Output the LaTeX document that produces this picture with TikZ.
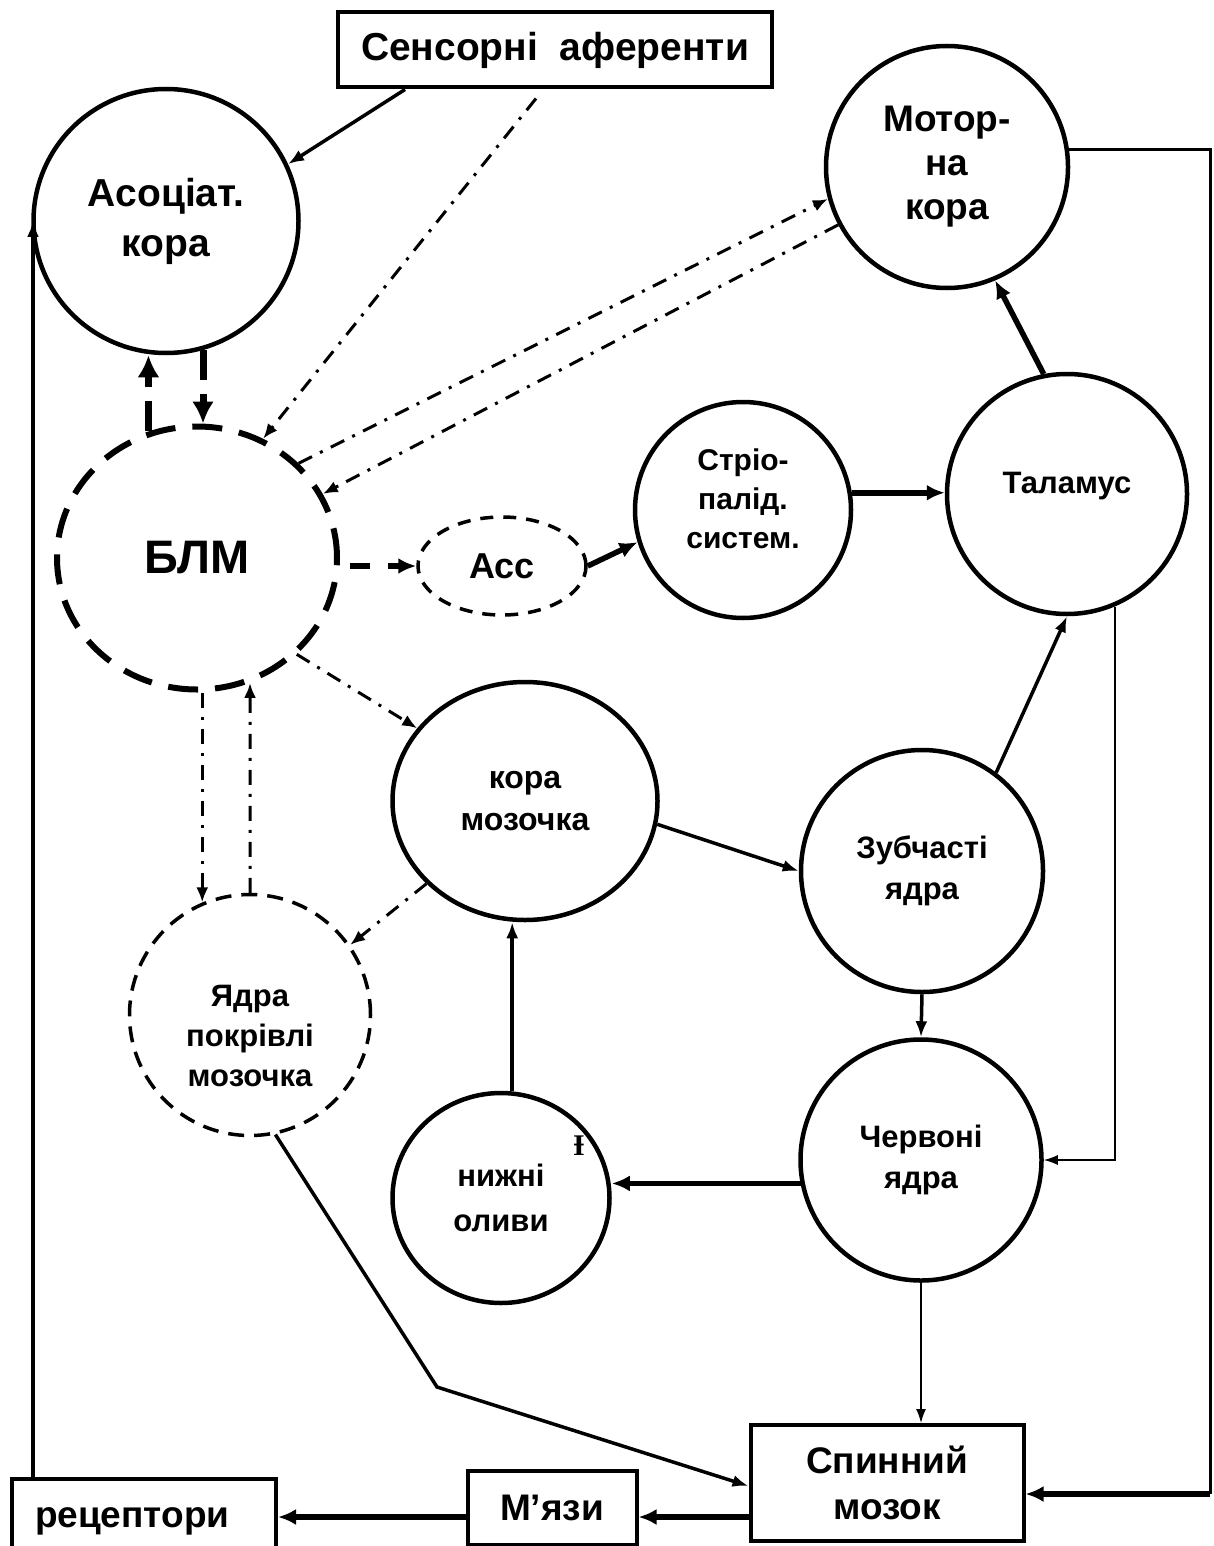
\documentclass[tikz,border=0pt]{standalone}
\usepackage{fontspec}
\setmainfont{Liberation Sans}
\newfontfamily\strayfont{Liberation Serif}
\usetikzlibrary{shapes.geometric, arrows.meta, calc}

\newcommand{\fsz}[2]{\fontsize{#1}{#2}\selectfont\bfseries}

\tikzset{
    nuc/.style={ellipse, draw, line width=4.5pt, inner sep=0pt, align=center},
    dnuc/.style={nuc, line width=3.5pt, dash pattern=on 16pt off 10pt},
    box/.style={rectangle, draw, line width=4pt, inner sep=0pt, align=center},
    link/.style={line width=3.5pt, -{Latex[length=16pt,width=12pt]}},
    heavylink/.style={line width=5.5pt, -{Latex[length=18pt,width=16pt]}},
    thinlink/.style={line width=1.6pt, -{Latex[length=14pt,width=10pt]}},
    dashdot/.style={line width=3pt, dash pattern=on 15pt off 9pt on 3pt off 9pt, -{Latex[length=15pt,width=12pt]}},
    bigdash/.style={line width=7pt, dash pattern=on 30pt off 14pt, -{Latex[length=22pt,width=22pt]}}
}

\begin{document}
\begin{tikzpicture}[x=1pt, y=-1pt]
    \useasboundingbox[fill=white] (0,0) rectangle (1213,1546);

    % top row
    \node[box, minimum width=434pt, minimum height=75pt, font=\fsz{39}{42}] (sens) at (555,50) {Сенсорні\ \ аференти};
    \node[nuc, minimum width=265pt, minimum height=264pt, font=\fsz{39}{50}] (assoc) at (166,221) {Асоціат.\\кора};
    \node[nuc, minimum size=242pt, font=\fsz{37}{44}] (motor) at (947,167) {Мотор-\\на\\кора};

    % limbic part
    \node[nuc, line width=6pt, dash pattern=on 30pt off 17pt, minimum width=280pt, minimum height=263pt, font=\fsz{47}{50}] (blm) at (197,558) {БЛМ};
    \node[nuc, line width=3.5pt, dash pattern=on 13pt off 10pt, minimum width=168pt, minimum height=98pt, font=\fsz{36}{40}] (acc) at (502,566) {Асс};
    \node[nuc, minimum size=216pt] (strio) at (743,510) {};
    \node[font=\fsz{30}{39}, align=center] (strio-t) at (743,499) {Стріо-\\палід.\\систем.};
    \node[nuc, minimum size=240pt] (thal) at (1067,494) {};
    \node[font=\fsz{31}{34}] (thal-t) at (1067,486) {Таламус};

    % cerebellum
    \node[nuc, minimum width=265pt, minimum height=238pt, font=\fsz{32}{42}] (kora) at (525,801) {кора\\мозочка};
    \node[nuc, minimum size=242pt, font=\fsz{31}{41}] (zub) at (922,871) {Зубчасті\\ядра};
    \node[dnuc, minimum size=241pt] (yadra) at (250,1015) {};
    \node[font=\fsz{31}{40}, align=center] (yadra-t) at (250,1036) {Ядра\\покрівлі\\мозочка};
    \node[nuc, minimum size=241pt, font=\fsz{31}{41}] (cherv) at (921,1160) {Червоні\\ядра};
    \node[nuc, minimum width=217pt, minimum height=210pt, font=\fsz{31}{45}] (olyvy) at (501,1198) {нижні\\оливи};
    \node[font=\strayfont\fontsize{30}{30}\selectfont\bfseries] (stray) at (579,1146) {Ɨ};

    % bottom row
    \node[box, minimum width=273pt, minimum height=116pt, font=\fsz{37}{46}] (spinal) at (887,1483) {Спинний\\мозок};
    \node[box, minimum width=169pt, minimum height=74pt, font=\fsz{37}{40}] (myazy) at (552,1508) {М’язи};
    \node[box, minimum width=264pt, minimum height=84pt, inner xsep=23pt, text width=218pt, align=left, font=\fsz{37}{40}] (recep) at (144,1521) {рецептори};
    \coordinate (rim) at (1210,1494);
    \coordinate (bend) at (437,1387);

    % solid connections
    \draw[link] ([xshift=69pt]sens.south west) -- (assoc.25);
    \draw[heavylink] (acc.east) -- (strio.197);
    \draw[heavylink] (strio.9) -- (strio.9 -| thal.west);
    \draw[heavylink] (thal.101) -- (motor.293);
    \draw[link] (zub.53) -- (thal.south);
    \draw[link] (kora.350) -- (zub.west);
    \draw[link] (zub.south) -- (cherv.north);
    \draw[heavylink] (cherv.191) -- (cherv.191 -| olyvy.east);
    \draw[link] (olyvy.84) -- (olyvy.84 |- kora.south);
    \draw[link] (yadra.282) -- (bend) -- ([yshift=-3pt]spinal.west);
    \draw[thinlink] (cherv.south) -- (cherv.south |- spinal.north);
    \draw[thinlink] (thal.293) -- (thal.293 |- cherv.east) -- (cherv.east);
    \draw[line width=3pt] (motor.8) -| (rim);
    \draw[heavylink] (rim) -- ([yshift=-11pt]spinal.east);
    \draw[heavylink] ([yshift=-34pt]spinal.west) -- ([yshift=-34pt]spinal.west -| myazy.east);
    \draw[heavylink] ([yshift=-9pt]myazy.west) -- ([yshift=-9pt]myazy.west -| recep.east);
    \draw[link] ([xshift=23pt]recep.north west) -- ([xshift=23pt]recep.north west |- assoc.west);

    % dashed and dash-dot connections
    \draw[bigdash] (blm.111) -- (blm.111 |- assoc.south);
    \draw[bigdash] (assoc.286) -- (assoc.286 |- blm.north);
    \draw[line width=6pt, dash pattern=on 20pt off 18pt, -{Latex[length=18pt,width=16pt]}] ([xshift=10pt]blm.east |- acc.west) -- (acc.west);
    \draw[dashdot] ([xshift=200pt, yshift=-9pt]sens.south west) -- (blm.61);
    \draw[dashdot] (blm.43) -- (motor.195);
    \draw[dashdot] (motor.208) -- (blm.27);
    \draw[dashdot] (blm.316) -- (kora.146);
    \draw[dashdot] (kora.220) -- (yadra.35);
    \draw[dashdot] (yadra.113 |- blm.south) -- (yadra.113);
    \draw[dashdot] (yadra.north) -- (blm.293);
\end{tikzpicture}
\end{document}
